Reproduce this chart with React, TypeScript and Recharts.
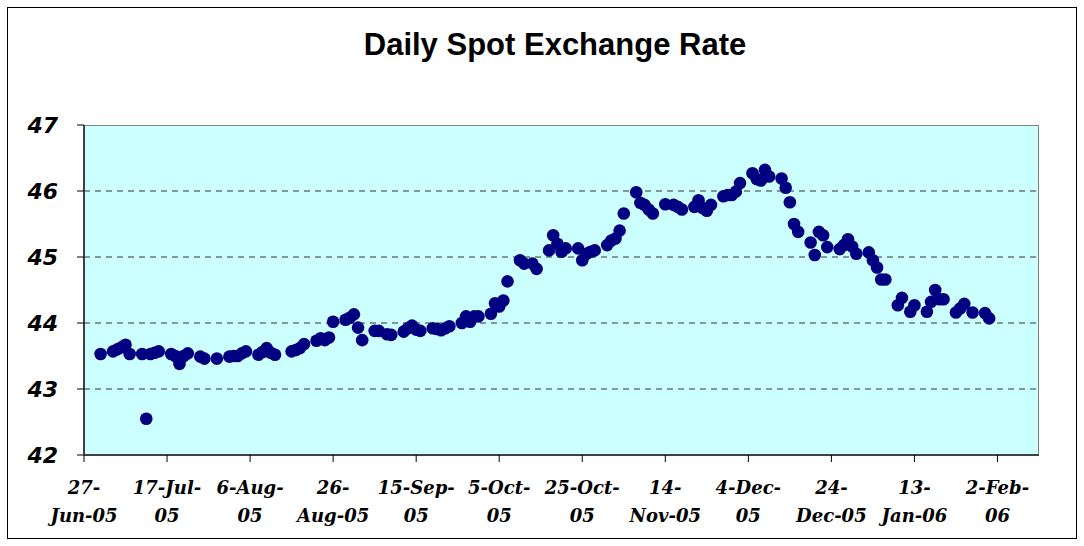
import React from 'react';
import { ScatterChart, Scatter, XAxis, YAxis, ReferenceArea, ReferenceLine } from 'recharts';

const START = Date.UTC(2005, 5, 27);

const dates: string[] = [
  '2005-07-01',
  '2005-07-04', '2005-07-05', '2005-07-06', '2005-07-07', '2005-07-08',
  '2005-07-11', '2005-07-12', '2005-07-13', '2005-07-14', '2005-07-15',
  '2005-07-18', '2005-07-19', '2005-07-20', '2005-07-21', '2005-07-22',
  '2005-07-25', '2005-07-26', '2005-07-29',
  '2005-08-01', '2005-08-02', '2005-08-03', '2005-08-04', '2005-08-05',
  '2005-08-08', '2005-08-09', '2005-08-10', '2005-08-11', '2005-08-12',
  '2005-08-16', '2005-08-17', '2005-08-18', '2005-08-19',
  '2005-08-22', '2005-08-23', '2005-08-24', '2005-08-25', '2005-08-26',
  '2005-08-29', '2005-08-30', '2005-08-31', '2005-09-01', '2005-09-02',
  '2005-09-05', '2005-09-06', '2005-09-08', '2005-09-09',
  '2005-09-12', '2005-09-13', '2005-09-14', '2005-09-15', '2005-09-16',
  '2005-09-19', '2005-09-20', '2005-09-21', '2005-09-22', '2005-09-23',
  '2005-09-26', '2005-09-27', '2005-09-28', '2005-09-29', '2005-09-30',
  '2005-10-03', '2005-10-04', '2005-10-05', '2005-10-06', '2005-10-07',
  '2005-10-10', '2005-10-11', '2005-10-13', '2005-10-14',
  '2005-10-17', '2005-10-18', '2005-10-19', '2005-10-20', '2005-10-21',
  '2005-10-24', '2005-10-25', '2005-10-26', '2005-10-27', '2005-10-28',
  '2005-10-31', '2005-11-01', '2005-11-02', '2005-11-03', '2005-11-04',
  '2005-11-07', '2005-11-08', '2005-11-09', '2005-11-10', '2005-11-11',
  '2005-11-14', '2005-11-16', '2005-11-17', '2005-11-18',
  '2005-11-21', '2005-11-22', '2005-11-23', '2005-11-24', '2005-11-25',
  '2005-11-28', '2005-11-29', '2005-11-30', '2005-12-01', '2005-12-02',
  '2005-12-05', '2005-12-06', '2005-12-07', '2005-12-08', '2005-12-09',
  '2005-12-12', '2005-12-13', '2005-12-14', '2005-12-15', '2005-12-16',
  '2005-12-19', '2005-12-20', '2005-12-21', '2005-12-22', '2005-12-23',
  '2005-12-26', '2005-12-27', '2005-12-28', '2005-12-29', '2005-12-30',
  '2006-01-02', '2006-01-03', '2006-01-04', '2006-01-05', '2006-01-06',
  '2006-01-09', '2006-01-10', '2006-01-12', '2006-01-13',
  '2006-01-16', '2006-01-17', '2006-01-18', '2006-01-19', '2006-01-20',
  '2006-01-23', '2006-01-24', '2006-01-25', '2006-01-27',
  '2006-01-30', '2006-01-31',
];

const rates: number[] = [
  43.53,
  43.57, 43.60, 43.63, 43.67, 43.53,
  43.53, 42.55, 43.53, 43.55, 43.57,
  43.53, 43.50, 43.38, 43.50, 43.54,
  43.49, 43.46, 43.46,
  43.49, 43.50, 43.50, 43.54, 43.57,
  43.52, 43.56, 43.62, 43.55, 43.52,
  43.57, 43.59, 43.62, 43.68,
  43.73, 43.77, 43.74, 43.78, 44.02,
  44.05, 44.08, 44.13, 43.93, 43.74,
  43.88, 43.88, 43.83, 43.82,
  43.87, 43.92, 43.96, 43.90, 43.88,
  43.92, 43.91, 43.89, 43.92, 43.95,
  44.00, 44.10, 44.02, 44.10, 44.10,
  44.14, 44.30, 44.25, 44.34, 44.63,
  44.95, 44.90, 44.90, 44.82,
  45.10, 45.33, 45.20, 45.08, 45.13,
  45.13, 44.95, 45.05, 45.08, 45.10,
  45.18, 45.25, 45.28, 45.40, 45.66,
  45.98, 45.82, 45.79, 45.72, 45.66,
  45.80, 45.79, 45.76, 45.72,
  45.76, 45.86, 45.74, 45.70, 45.79,
  45.92, 45.94, 45.94, 45.99, 46.12,
  46.27, 46.18, 46.16, 46.32, 46.22,
  46.19, 46.05, 45.83, 45.50, 45.38,
  45.22, 45.03, 45.38, 45.33, 45.15,
  45.12, 45.18, 45.27, 45.16, 45.05,
  45.07, 44.95, 44.84, 44.66, 44.66,
  44.27, 44.38, 44.17, 44.27,
  44.17, 44.32, 44.50, 44.36, 44.36,
  44.16, 44.22, 44.29, 44.16,
  44.15, 44.07,
];

const xTickDays: number[] = [0, 20, 40, 60, 80, 100, 120, 140, 160, 180, 200, 220];
const xTickLabels: string[][] = [
  ['27-', 'Jun-05'],
  ['17-Jul-', '05'],
  ['6-Aug-', '05'],
  ['26-', 'Aug-05'],
  ['15-Sep-', '05'],
  ['5-Oct-', '05'],
  ['25-Oct-', '05'],
  ['14-', 'Nov-05'],
  ['4-Dec-', '05'],
  ['24-', 'Dec-05'],
  ['13-', 'Jan-06'],
  ['2-Feb-', '06'],
];
const yTicks: number[] = [42, 43, 44, 45, 46, 47];
const gridValues: number[] = [43, 44, 45, 46];
const X_MAX = 230;

const data = dates.map((d, i) => ({
  day: (Date.parse(d + 'T00:00:00Z') - START) / 86400000,
  rate: rates[i],
}));

const XTick = (props: any) => {
  const { x, y, payload } = props;
  const idx = xTickDays.indexOf(payload.value);
  const lines = xTickLabels[idx] || [];
  return (
    <text
      x={x}
      y={y}
      textAnchor="middle"
      fill="#000"
      style={{
        fontFamily: "'DejaVu Serif', serif",
        fontWeight: 'bold',
        fontStyle: 'italic',
        fontSize: 18,
      }}
    >
      {lines.map((l, i) => (
        <tspan key={i} x={x} dy={i === 0 ? 32 : 28}>
          {l}
        </tspan>
      ))}
    </text>
  );
};

const YTick = (props: any) => {
  const { x, y, payload } = props;
  return (
    <text
      x={x}
      y={y}
      dy={8}
      textAnchor="end"
      fill="#000"
      style={{
        fontFamily: "'DejaVu Sans', sans-serif",
        fontWeight: 'bold',
        fontStyle: 'oblique',
        fontSize: 22,
      }}
    >
      {payload.value}
    </text>
  );
};

const Dot = (p: any) => <circle cx={p.cx} cy={p.cy} r={6.3} fill="#000080" />;

export default function App() {
  return (
    <div style={{ position: 'absolute', left: 0, top: 0, width: 1084, height: 546, background: '#fff' }}>
      <div
        style={{
          position: 'absolute',
          left: 7,
          top: 7,
          width: 1068,
          height: 530,
          border: '1px solid #000',
        }}
      />
      <div
        style={{
          position: 'absolute',
          left: 0,
          top: 27,
          width: 1110,
          textAlign: 'center',
          fontFamily: "'Liberation Sans', Arial, sans-serif",
          fontWeight: 'bold',
          fontSize: 31,
          lineHeight: '36px',
          color: '#000',
        }}
      >
        Daily Spot Exchange Rate
      </div>
      <div style={{ position: 'absolute', left: 0, top: 0 }}>
        <ScatterChart
          width={1084}
          height={546}
          margin={{ top: 125, right: 45, bottom: 31, left: 24 }}
        >
          <ReferenceArea
            x1={0}
            x2={X_MAX}
            y1={42}
            y2={47}
            fill="#CCFFFF"
            fillOpacity={1}
            stroke="#808080"
            strokeWidth={2}
            ifOverflow="hidden"
          />
          {gridValues.map((v) => (
            <ReferenceLine key={v} y={v} stroke="#333" strokeDasharray="6 5" strokeWidth={1} />
          ))}
          <XAxis
            dataKey="day"
            type="number"
            domain={[0, X_MAX]}
            ticks={xTickDays}
            allowDataOverflow
            height={60}
            tickSize={7}
            tickMargin={0}
            tick={<XTick />}
            interval={0}
            axisLine={{ stroke: '#404040', strokeWidth: 2 }}
            tickLine={{ stroke: '#000' }}
          />
          <YAxis
            dataKey="rate"
            type="number"
            domain={[42, 47]}
            ticks={yTicks}
            allowDataOverflow
            width={60}
            tickSize={7}
            tickMargin={19}
            tick={<YTick />}
            interval={0}
            axisLine={{ stroke: '#404040', strokeWidth: 2 }}
            tickLine={{ stroke: '#000' }}
          />
          <Scatter data={data} dataKey="rate" fill="#000080" isAnimationActive={false} shape={Dot} />
        </ScatterChart>
      </div>
    </div>
  );
}
